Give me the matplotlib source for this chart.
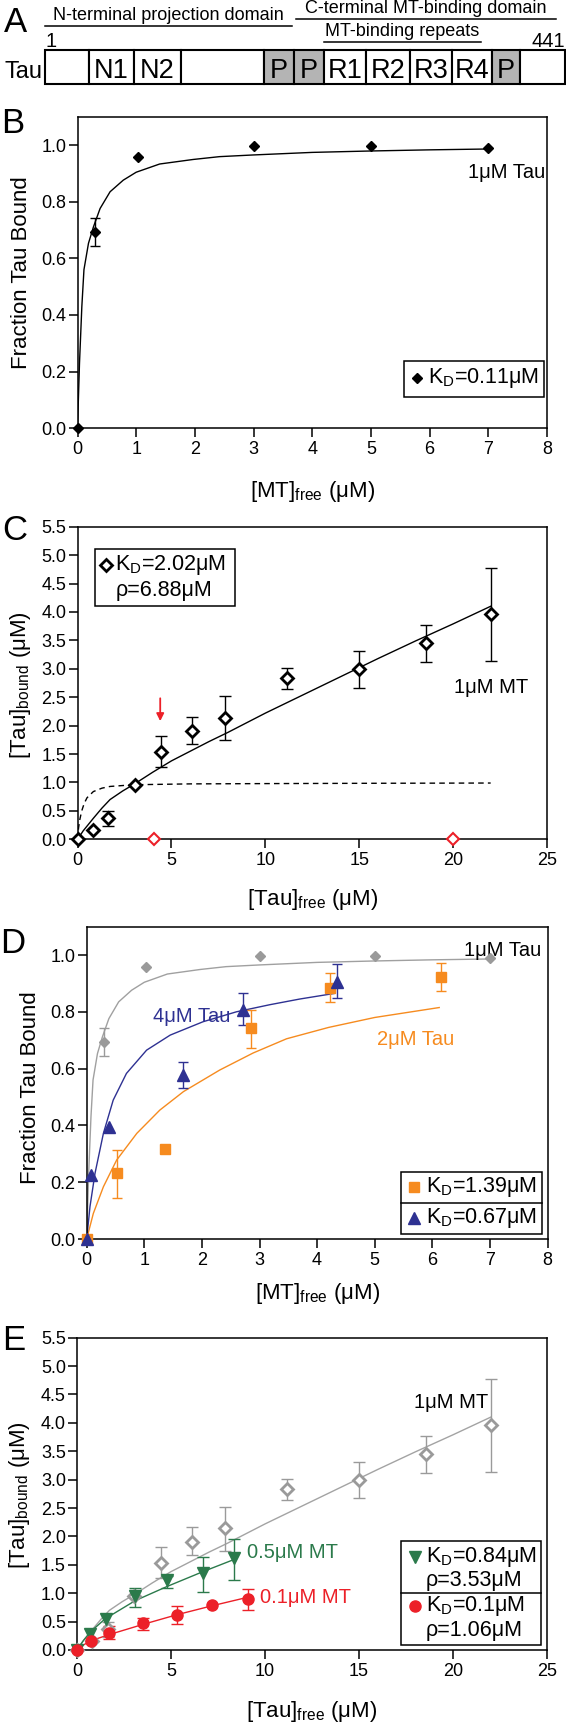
import matplotlib
matplotlib.use('Agg')
import matplotlib.pyplot as plt
from matplotlib import font_manager
from matplotlib.patches import Rectangle
from matplotlib.ticker import FormatStrFormatter
import numpy as np

plt.rcParams['font.family'] = ['Liberation Sans', 'DejaVu Sans']
plt.rcParams['mathtext.fontset'] = 'custom'
plt.rcParams['mathtext.rm'] = 'Liberation Sans'
plt.rcParams['mathtext.it'] = 'Liberation Sans:italic'
plt.rcParams['mathtext.bf'] = 'Liberation Sans:bold'

try:
    font_manager.findfont('Liberation Sans Narrow', fallback_to_default=False)
    NARROW = 'Liberation Sans Narrow'
except ValueError:
    NARROW = 'Liberation Sans'

# ---- data ----
# A: tau domain map (residue boundaries as drawn)
domain_edges = [1, 38, 76, 116, 186, 212, 237, 273, 310, 345, 379, 403, 441]
domain_labels = ['', 'N1', 'N2', '', 'P', 'P', 'R1', 'R2', 'R3', 'R4', 'P', '']
bracket_names = ['N-terminal projection domain', 'C-terminal MT-binding domain', 'MT-binding repeats']
bracket_start = [1, 213, 237]
bracket_end = [210, 433, 370]

# B / D: 1 uM tau, fraction bound vs free MT
tau1_x = [0, 0.3, 1.03, 3.0, 5.0, 7.0]
tau1_y = [0, 0.694, 0.959, 0.995, 0.995, 0.989]
tau1_lo = [None, 0.645, None, None, None, None]
tau1_hi = [None, 0.744, None, None, None, None]
fit1_x = [0, 0.034, 0.074, 0.11, 0.187, 0.27, 0.385, 0.555, 0.78, 1.0, 1.4, 1.97, 2.42, 3.0, 4.0, 5.0, 6.0, 7.0]
fit1_y = [0, 0.23, 0.43, 0.56, 0.653, 0.71, 0.776, 0.835, 0.876, 0.904, 0.933, 0.949, 0.959, 0.965, 0.974, 0.979, 0.983, 0.986]

# D: 4 uM tau and 2 uM tau
tau4_x = [0, 0.07, 0.39, 1.67, 2.72, 4.34]
tau4_y = [0, 0.225, 0.395, 0.578, 0.806, 0.905]
tau4_lo = [None, None, None, 0.531, 0.754, 0.847]
tau4_hi = [None, None, None, 0.624, 0.867, 0.967]
fit4_x = [0, 0.057, 0.144, 0.29, 0.46, 0.69, 1.04, 1.45, 2.02, 2.6, 3.18, 3.7, 4.31]
fit4_y = [0, 0.114, 0.231, 0.372, 0.489, 0.583, 0.665, 0.718, 0.765, 0.8, 0.825, 0.845, 0.865]
tau2_x = [0, 0.53, 1.36, 2.85, 4.22, 6.15]
tau2_y = [0, 0.231, 0.316, 0.742, 0.885, 0.924]
tau2_lo = [None, 0.143, None, 0.674, 0.833, 0.872]
tau2_hi = [None, 0.313, None, 0.806, 0.938, 0.973]
fit2_x = [0, 0.115, 0.29, 0.52, 0.87, 1.27, 1.68, 2.31, 2.89, 3.47, 4.2, 5.0, 6.12]
fit2_y = [0, 0.09, 0.184, 0.278, 0.372, 0.454, 0.519, 0.595, 0.655, 0.705, 0.745, 0.78, 0.815]

# C / E: 1 uM MT, bound vs free tau
mt1_x = [0, 0.8, 1.63, 3.04, 4.46, 6.1, 7.86, 11.17, 15.0, 18.55, 22.0]
mt1_y = [0, 0.16, 0.37, 0.95, 1.54, 1.91, 2.14, 2.83, 2.99, 3.45, 3.96]
mt1_lo = [None, None, 0.235, None, 1.27, 1.67, 1.75, 2.64, 2.67, 3.12, 3.14]
mt1_hi = [None, None, 0.49, None, 1.82, 2.16, 2.52, 3.01, 3.31, 3.77, 4.78]
fitmt1_x = [0, 0.3, 0.84, 1.3, 1.73, 2.4, 3.06, 4.0, 5.0, 6.0, 7.0, 8.0, 10, 12, 14, 16, 18, 20, 22]
fitmt1_y = [0, 0.15, 0.37, 0.55, 0.7, 0.85, 0.98, 1.18, 1.38, 1.55, 1.72, 1.88, 2.22, 2.54, 2.86, 3.18, 3.49, 3.79, 4.1]
single_x = [0, 0.05, 0.12, 0.22, 0.35, 0.5, 0.84, 1.3, 1.73, 3.0, 6.0, 10, 15, 22]
single_y = [0, 0.2, 0.35, 0.5, 0.63, 0.73, 0.84, 0.9, 0.93, 0.96, 0.975, 0.98, 0.985, 0.99]
zero_x = [4.05, 20.0]
zero_y = [0, 0]
arrow_x = 4.4
arrow_y = (2.53, 2.03)

# E: 0.5 uM and 0.1 uM MT
mt05_x = [0, 0.71, 1.53, 3.08, 4.77, 6.69, 8.37]
mt05_y = [0, 0.283, 0.543, 0.943, 1.24, 1.36, 1.62]
mt05_lo = [None, None, None, 0.756, 1.10, 1.02, 1.24]
mt05_hi = [None, None, None, 1.09, 1.30, 1.64, 1.96]
fit05_x = [0, 0.35, 0.75, 1.5, 3.1, 4.8, 6.7, 8.4]
fit05_y = [0, 0.17, 0.33, 0.55, 0.87, 1.12, 1.38, 1.6]
mt01_x = [0, 0.77, 1.69, 3.49, 5.33, 7.2, 9.12]
mt01_y = [0, 0.165, 0.307, 0.473, 0.62, 0.797, 0.903]
mt01_lo = [None, None, 0.19, 0.354, 0.46, None, 0.708]
mt01_hi = [None, None, 0.425, 0.572, 0.767, None, 1.075]
fit01_x = [0, 0.4, 0.8, 1.7, 3.5, 5.3, 7.2, 9.1]
fit01_y = [0, 0.1, 0.17, 0.27, 0.45, 0.62, 0.78, 0.93]

GRAY = '#9a9a9a'
BLUE = '#2e3192'
ORANGE = '#f68b1f'
GREEN = '#2b7a4b'
RED = '#ec2028'

TICK = 13
LABEL = 16
NOTE = 14.5
LEG = 15.5

W, H = 566, 1723
fig = plt.figure(figsize=(W / 100, H / 100), dpi=100)


def box(l, t, r, b):
    return [l / W, 1 - b / H, (r - l) / W, (b - t) / H]


def style(ax):
    for s in ax.spines.values():
        s.set_linewidth(1.1)
    ax.tick_params(direction='out', length=6.5, width=1.1, labelsize=TICK)
    ax.tick_params(axis='y', pad=1.5)
    ax.tick_params(axis='x', pad=3)
    ax.yaxis.set_major_formatter(FormatStrFormatter('%.1f'))


def bars(ax, x, y, lo, hi, color, cap):
    idx = [i for i in range(len(x)) if lo[i] is not None]
    xs = [x[i] for i in idx]
    ys = [y[i] for i in idx]
    err = [[y[i] - lo[i] for i in idx], [hi[i] - y[i] for i in idx]]
    ax.errorbar(xs, ys, yerr=err, fmt='none', ecolor=color, elinewidth=1.0,
                capsize=cap, capthick=1.0, zorder=3, clip_on=False)


def legend_frame(ax, x0, y0, x1, y1, dividers=()):
    ax.add_patch(Rectangle((x0, y0), x1 - x0, y1 - y0, transform=ax.transAxes,
                           facecolor='white', edgecolor='k', lw=1.1, zorder=6))
    for yd in dividers:
        ax.plot([x0, x1], [yd, yd], transform=ax.transAxes, color='k', lw=1.1, zorder=7)


def letter(px, py, s):
    fig.text(px / W, 1 - py / H, s, size=25, va='baseline', ha='left')


KD = 'K$_{\\mathregular{D}}$'

# ---- A ----
axa = fig.add_axes([0, 1 - 130 / H, 1, 130 / H])
px2r = lambda p: 1 + (p - 45.1) * 440 / 519.9
axa.set_xlim(px2r(0), px2r(W))
axa.set_ylim(130, 0)
axa.axis('off')
for i, lab in enumerate(domain_labels):
    x0, x1 = domain_edges[i], domain_edges[i + 1]
    fc = '#b4b4b4' if lab == 'P' else 'white'
    axa.add_patch(Rectangle((x0, 50), x1 - x0, 34, facecolor=fc, edgecolor='k', lw=1.5))
    if lab:
        axa.text((x0 + x1) / 2, 78.5, lab, ha='center', va='baseline', family=NARROW, size=19.5)
axa.text(px2r(42.5), 78.5, 'Tau', ha='right', va='baseline', family=NARROW, size=17)
line_y = [26, 18.5, 41.7]
text_y = [19.5, 13.0, 35.5]
for name, r0, r1, ly, ty in zip(bracket_names, bracket_start, bracket_end, line_y, text_y):
    axa.plot([r0, r1], [ly, ly], color='k', lw=1.1)
    axa.text((r0 + r1) / 2, ty, name, ha='center', va='baseline', size=13)
axa.text(domain_edges[0], 46.7, str(domain_edges[0]), ha='left', va='baseline', family=NARROW, size=14.5)
axa.text(domain_edges[-1], 46.7, str(domain_edges[-1]), ha='right', va='baseline', family=NARROW, size=14.5)
letter(3.6, 31.7, 'A')

# ---- B ----
axb = fig.add_axes(box(77.5, 116.7, 547, 428.3))
style(axb)
axb.set_xlim(0, 8)
axb.set_ylim(0, 1.1)
axb.set_xticks(range(0, 9))
axb.set_yticks(np.arange(0, 1.01, 0.2))
axb.plot(fit1_x, fit1_y, color='k', lw=1.0, zorder=2)
bars(axb, tau1_x, tau1_y, tau1_lo, tau1_hi, 'k', 3.8)
axb.plot(tau1_x, tau1_y, 'D', color='k', ms=5.5, zorder=4, clip_on=False)
axb.text(7.97, 0.902, '1μM Tau', ha='right', va='center', size=NOTE)
legend_frame(axb, 0.696, 0.1014, 0.9945, 0.216)
axb.plot([0.723], [0.16], 'D', color='k', ms=5.5, transform=axb.transAxes, zorder=8)
axb.text(0.7465, 0.16, KD + '=0.11μM', transform=axb.transAxes, va='center', size=LEG, zorder=8)
axb.set_xlabel('[MT]$_{\\mathregular{free}}$ (μM)', size=LABEL, va='center')
axb.xaxis.set_label_coords(0.5, -0.2035)
axb.set_ylabel('Fraction Tau Bound', size=LABEL, va='center')
axb.yaxis.set_label_coords(-0.12, 0.5)
letter(1, 133, 'B')

# ---- C ----
axc = fig.add_axes(box(77.6, 526.7, 547, 839.3))
style(axc)
axc.set_xlim(0, 25)
axc.set_ylim(0, 5.5)
axc.set_xticks(range(0, 26, 5))
axc.set_yticks(np.arange(0, 5.51, 0.5))
axc.plot(fitmt1_x, fitmt1_y, color='k', lw=1.0, zorder=2)
axc.plot(single_x, single_y, color='k', lw=1.0, ls=(0, (4, 3)), zorder=2)
bars(axc, mt1_x, mt1_y, mt1_lo, mt1_hi, 'k', 4.5)
axc.plot(mt1_x, mt1_y, 'D', mfc='white', mec='k', mew=2, ms=6.5, zorder=4, clip_on=False)
axc.plot(zero_x, zero_y, 'D', mfc='white', mec=RED, mew=1.5, ms=6.5, zorder=4, clip_on=False)
axc.annotate('', xy=(arrow_x, arrow_y[1]), xytext=(arrow_x, arrow_y[0]),
             arrowprops=dict(arrowstyle='-|>', color=RED, lw=1.3, mutation_scale=11))
axc.text(22.05, 2.67, '1μM MT', ha='center', va='center', size=NOTE)
legend_frame(axc, 0.037, 0.747, 0.336, 0.928)
axc.plot([0.060], [0.877], 'D', mfc='white', mec='k', mew=2, ms=6, transform=axc.transAxes, zorder=8)
axc.text(0.0807, 0.877, KD + '=2.02μM', transform=axc.transAxes, va='center', size=LEG, zorder=8)
axc.text(0.0807, 0.797, 'ρ=6.88μM', transform=axc.transAxes, va='center', size=LEG, zorder=8)
axc.set_xlabel('[Tau]$_{\\mathregular{free}}$ (μM)', size=LABEL, va='center')
axc.xaxis.set_label_coords(0.5, -0.194)
axc.set_ylabel('[Tau]$_{\\mathregular{bound}}$ (μM)', size=LABEL, va='center')
axc.yaxis.set_label_coords(-0.1227, 0.494)
letter(1.8, 540, 'C')

# ---- D ----
axd = fig.add_axes(box(86.7, 926.6, 547.5, 1239))
style(axd)
axd.set_xlim(0, 8)
axd.set_ylim(0, 1.1)
axd.set_xticks(range(0, 9))
axd.set_yticks(np.arange(0, 1.01, 0.2))
axd.plot(fit1_x, fit1_y, color='#a0a0a0', lw=1.0, zorder=2)
bars(axd, tau1_x, tau1_y, tau1_lo, tau1_hi, GRAY, 3.8)
axd.plot(tau1_x, tau1_y, 'D', color=GRAY, ms=5.5, zorder=4, clip_on=False)
axd.plot(fit2_x, fit2_y, color=ORANGE, lw=1.0, zorder=2)
bars(axd, tau2_x, tau2_y, tau2_lo, tau2_hi, ORANGE, 3.8)
axd.plot(tau2_x, tau2_y, 's', color=ORANGE, ms=7, zorder=4, clip_on=False)
axd.text(1.82, 0.785, '4μM Tau', ha='center', va='center', size=NOTE, color=BLUE, zorder=1)
axd.plot(fit4_x, fit4_y, color=BLUE, lw=1.0, zorder=2)
bars(axd, tau4_x, tau4_y, tau4_lo, tau4_hi, BLUE, 3.8)
axd.plot(tau4_x, tau4_y, '^', color=BLUE, ms=8, zorder=5, clip_on=False)
axd.text(7.9, 1.015, '1μM Tau', ha='right', va='center', size=NOTE)
axd.text(5.71, 0.703, '2μM Tau', ha='center', va='center', size=NOTE, color=ORANGE)
legend_frame(axd, 0.683, 0.016, 0.987, 0.2135, dividers=[0.1143])
axd.plot([0.7113], [0.1674], 's', color=ORANGE, ms=7, transform=axd.transAxes, zorder=8)
axd.text(0.7363, 0.1674, KD + '=1.39μM', transform=axd.transAxes, va='center', size=LEG, zorder=8)
axd.plot([0.7113], [0.0663], '^', color=BLUE, ms=8, transform=axd.transAxes, zorder=8)
axd.text(0.7363, 0.0663, KD + '=0.67μM', transform=axd.transAxes, va='center', size=LEG, zorder=8)
axd.set_xlabel('[MT]$_{\\mathregular{free}}$ (μM)', size=LABEL, va='center')
axd.xaxis.set_label_coords(0.5, -0.173)
axd.set_ylabel('Fraction Tau Bound', size=LABEL, va='center')
axd.yaxis.set_label_coords(-0.1215, 0.485)
letter(0.5, 953.3, 'D')

# ---- E ----
axe = fig.add_axes(box(77, 1337.7, 547, 1650))
style(axe)
axe.set_xlim(0, 25)
axe.set_ylim(0, 5.5)
axe.set_xticks(range(0, 26, 5))
axe.set_yticks(np.arange(0, 5.51, 0.5))
axe.plot(fitmt1_x, fitmt1_y, color='#a3a3a3', lw=1.0, zorder=2)
bars(axe, mt1_x, mt1_y, mt1_lo, mt1_hi, GRAY, 4.5)
axe.plot(mt1_x, mt1_y, 'D', mfc='white', mec=GRAY, mew=2, ms=6.5, zorder=4, clip_on=False)
axe.plot(fit05_x, fit05_y, color=GREEN, lw=1.0, zorder=2)
bars(axe, mt05_x, mt05_y, mt05_lo, mt05_hi, GREEN, 4.5)
axe.plot(mt05_x, mt05_y, 'v', color=GREEN, ms=8, zorder=5, clip_on=False)
axe.plot(fit01_x, fit01_y, color=RED, lw=1.0, zorder=2)
bars(axe, mt01_x, mt01_y, mt01_lo, mt01_hi, RED, 4.5)
axe.plot(mt01_x, mt01_y, 'o', color=RED, ms=8, zorder=5, clip_on=False)
axe.text(19.9, 4.35, '1μM MT', ha='center', va='center', size=NOTE)
axe.text(9.03, 1.72, '0.5μM MT', ha='left', va='center', size=NOTE, color=GREEN)
axe.text(9.74, 0.925, '0.1μM MT', ha='left', va='center', size=NOTE, color=RED)
legend_frame(axe, 0.690, 0.016, 0.988, 0.35, dividers=[0.1816])
axe.plot([0.719], [0.2987], 'v', color=GREEN, ms=8, transform=axe.transAxes, zorder=8)
axe.text(0.7426, 0.2987, KD + '=0.84μM', transform=axe.transAxes, va='center', size=LEG, zorder=8)
axe.text(0.7426, 0.2241, 'ρ=3.53μM', transform=axe.transAxes, va='center', size=LEG, zorder=8)
axe.plot([0.719], [0.1409], 'o', color=RED, ms=8, transform=axe.transAxes, zorder=8)
axe.text(0.7426, 0.1409, KD + '=0.1μM', transform=axe.transAxes, va='center', size=LEG, zorder=8)
axe.text(0.7426, 0.0618, 'ρ=1.06μM', transform=axe.transAxes, va='center', size=LEG, zorder=8)
axe.set_xlabel('[Tau]$_{\\mathregular{free}}$ (μM)', size=LABEL, va='center')
axe.xaxis.set_label_coords(0.5, -0.198)
axe.set_ylabel('[Tau]$_{\\mathregular{bound}}$ (μM)', size=LABEL, va='center')
axe.yaxis.set_label_coords(-0.1215, 0.496)
letter(1.8, 1350, 'E')

fig.savefig('out.png', dpi=100)
